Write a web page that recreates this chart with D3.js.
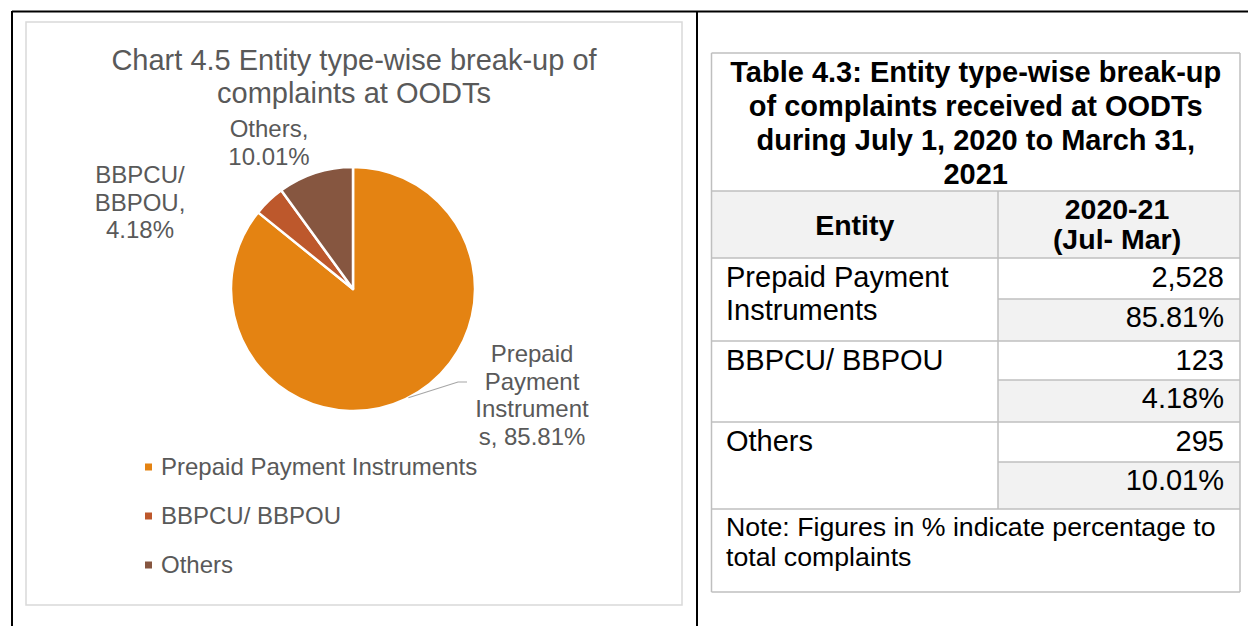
<!DOCTYPE html>
<html>
<head>
<meta charset="utf-8">
<script src="https://cdn.jsdelivr.net/npm/d3@7"></script>
<style>
  body { margin: 0; background: #fff; }
  svg { display: block; font-family: "Liberation Sans", Arial, sans-serif; }
</style>
</head>
<body>
<div id="chart"></div>
<script>
// chart data
const entities = ['Prepaid Payment Instruments', 'BBPCU/ BBPOU', 'Others'];
const shares = [85.81, 4.18, 10.01];
const counts = ['2,528', '123', '295'];
const shareLabels = ['85.81%', '4.18%', '10.01%'];
const colors = ['#E48312', '#BD582C', '#865640'];

// table text
const tableTitle = ['Table 4.3: Entity type-wise break-up', 'of complaints received at OODTs', 'during July 1, 2020 to March 31,', '2021'];
const tableEntityLines = [['Prepaid Payment', 'Instruments'], ['BBPCU/ BBPOU'], ['Others']];
const noteLines = ['Note: Figures in % indicate percentage to', 'total complaints'];

const W = 1248, H = 626;
const svg = d3.select('#chart').append('svg').attr('width', W).attr('height', H);

// page frame lines
svg.append('line').attr('x1', 12).attr('x2', W).attr('y1', 11.5).attr('y2', 11.5).attr('stroke', '#000').attr('stroke-width', 2);
svg.append('line').attr('x1', 12).attr('x2', 12).attr('y1', 11).attr('y2', H).attr('stroke', '#000').attr('stroke-width', 2);
svg.append('line').attr('x1', 697).attr('x2', 697).attr('y1', 11).attr('y2', H).attr('stroke', '#000').attr('stroke-width', 2);

// ---- chart area ----
svg.append('rect').attr('x', 26).attr('y', 22).attr('width', 656).attr('height', 583)
  .attr('fill', '#fff').attr('stroke', '#d9d9d9').attr('stroke-width', 1.5);

const title = svg.append('text').attr('text-anchor', 'middle').attr('fill', '#595959').attr('font-size', 29);
title.append('tspan').attr('x', 354).attr('y', 70).text('Chart 4.5 Entity type-wise break-up of');
title.append('tspan').attr('x', 354).attr('y', 103).text('complaints at OODTs');

const cx = 353, cy = 289, r = 122;
const pie = d3.pie().sort(null).value(d => d)(shares);
const arc = d3.arc().innerRadius(0).outerRadius(r);
const g = svg.append('g').attr('transform', `translate(${cx},${cy})`);
g.selectAll('path').data(pie).enter().append('path')
  .attr('d', arc)
  .attr('fill', (d, i) => colors[i])
  .attr('stroke', '#fff').attr('stroke-width', 2.5).attr('stroke-linejoin', 'round');

// data labels
const labelColor = '#595959';
const dataLabels = [
  { x: 532, y: 362, lines: ['Prepaid', 'Payment', 'Instrument', 's, ' + shareLabels[0]] },
  { x: 140, y: 183, lines: ['BBPCU/', 'BBPOU,', shareLabels[1]] },
  { x: 269, y: 137, lines: ['Others,', shareLabels[2]] }
];
dataLabels.forEach(l => {
  const t = svg.append('text').attr('text-anchor', 'middle').attr('fill', labelColor).attr('font-size', 24);
  l.lines.forEach((s, k) => t.append('tspan').attr('x', l.x).attr('y', l.y + k * 27.5).text(s));
});

// leader line for the big slice
const la = 153 * Math.PI / 180;
svg.append('polyline')
  .attr('points', [[cx + r * Math.sin(la), cy - r * Math.cos(la)], [458, 382], [467, 382]].map(p => p.join(',')).join(' '))
  .attr('fill', 'none').attr('stroke', '#a6a6a6').attr('stroke-width', 1.2);

// legend
const legend = svg.append('g').selectAll('g').data(entities).enter().append('g')
  .attr('transform', (d, i) => `translate(145,${475 + i * 49})`);
legend.append('rect').attr('x', 0).attr('y', -11.5).attr('width', 7).attr('height', 7).attr('fill', (d, i) => colors[i]);
legend.append('text').attr('x', 16).attr('y', 0).attr('fill', labelColor).attr('font-size', 24).text(d => d);

// ---- table ----
const tx0 = 711.5, tx1 = 998, tx2 = 1240;
const rowY = [53, 191, 258, 299, 341, 380, 422, 462, 509, 592];
const gridColor = '#bfbfbf';
const tg = svg.append('g');

// shaded cells: header row and percentage sub-rows
tg.append('rect').attr('x', tx0).attr('y', rowY[1]).attr('width', tx2 - tx0).attr('height', rowY[2] - rowY[1]).attr('fill', '#f2f2f2');
[1, 3, 5].forEach(k => {
  tg.append('rect').attr('x', tx1).attr('y', rowY[2 + k]).attr('width', tx2 - tx1).attr('height', rowY[3 + k] - rowY[2 + k]).attr('fill', '#f2f2f2');
});

// grid lines
const hLines = [
  [tx0, tx2, rowY[0]], [tx0, tx2, rowY[1]], [tx0, tx2, rowY[2]],
  [tx1, tx2, rowY[3]], [tx0, tx2, rowY[4]], [tx1, tx2, rowY[5]],
  [tx0, tx2, rowY[6]], [tx1, tx2, rowY[7]], [tx0, tx2, rowY[8]], [tx0, tx2, rowY[9]]
];
hLines.forEach(([a, b, y]) => tg.append('line').attr('x1', a).attr('x2', b).attr('y1', y).attr('y2', y).attr('stroke', gridColor).attr('stroke-width', 1.5));
[[tx0, rowY[0], rowY[9]], [tx2, rowY[0], rowY[9]], [tx1, rowY[1], rowY[8]]].forEach(([x, a, b]) =>
  tg.append('line').attr('x1', x).attr('x2', x).attr('y1', a).attr('y2', b).attr('stroke', gridColor).attr('stroke-width', 1.5));

// title
const tt = tg.append('text').attr('text-anchor', 'middle').attr('font-weight', 'bold').attr('font-size', 29).attr('fill', '#000');
tableTitle.forEach((s, k) => tt.append('tspan').attr('x', (tx0 + tx2) / 2).attr('y', 82 + k * 34).text(s));

// header
tg.append('text').attr('x', (tx0 + tx1) / 2).attr('y', 235).attr('text-anchor', 'middle').attr('font-weight', 'bold').attr('font-size', 28.5).text('Entity');
const hd = tg.append('text').attr('text-anchor', 'middle').attr('font-weight', 'bold').attr('font-size', 28.5);
hd.append('tspan').attr('x', 1117).attr('y', 219).text('2020-21');
hd.append('tspan').attr('x', 1117).attr('y', 249).text('(Jul- Mar)');

// body
const bodySize = 29;
entities.forEach((e, i) => {
  const top = rowY[3 + 2 * i - 1];
  const t = tg.append('text').attr('font-size', bodySize).attr('fill', '#000');
  tableEntityLines[i].forEach((s, k) => t.append('tspan').attr('x', 726).attr('y', top + 28.5 + k * 33.5).text(s));
  tg.append('text').attr('x', 1224).attr('y', top + 28.5).attr('text-anchor', 'end').attr('font-size', bodySize).text(counts[i]);
  tg.append('text').attr('x', 1224).attr('y', rowY[3 + 2 * i] + 28).attr('text-anchor', 'end').attr('font-size', bodySize).text(shareLabels[i]);
});

// note
const nt = tg.append('text').attr('font-size', 26.7).attr('fill', '#000');
noteLines.forEach((s, k) => nt.append('tspan').attr('x', 726).attr('y', 536 + k * 29.5).text(s));
</script>
</body>
</html>
